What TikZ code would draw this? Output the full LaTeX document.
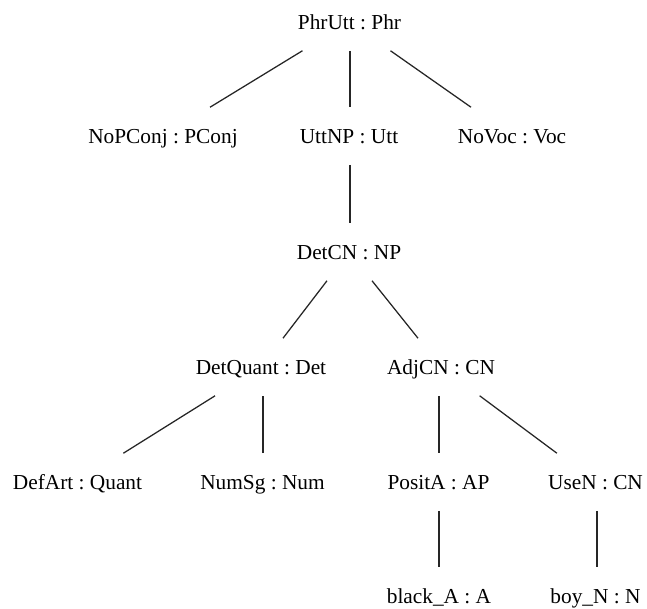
\documentclass[tikz,border=0pt]{standalone}
\usepackage{fontspec}
\setmainfont{Liberation Serif}
\begin{document}
\frenchspacing
\begin{tikzpicture}[x=0.75pt,y=-0.75pt,
  cat/.style={rectangle,inner xsep=1pt,inner ysep=0pt,
    text height=10.6pt,text depth=0pt,minimum height=42.75pt,
    font=\fontsize{16}{19}\selectfont\frenchspacing},
  branch/.style={draw=black!85,line width=0.95pt}]
\useasboundingbox (0,0) rectangle (647,609);
% level 1
\node[cat] (phr)   at (349.5,22)  {PhrUtt : Phr};
% level 2
\node[cat] (pconj) at (163,136)   {NoPConj : PConj};
\node[cat] (utt)   at (349,136)   {UttNP : Utt};
\node[cat] (voc)   at (512,136)   {NoVoc : Voc};
% level 3
\node[cat] (np)    at (349,252)   {DetCN : NP};
% level 4
\node[cat] (det)   at (261,367)   {DetQuant : Det};
\node[cat] (adjcn) at (441,367)   {AdjCN : CN};
% level 5
\node[cat] (quant) at (77.5,482)  {DefArt : Quant};
\node[cat] (num)   at (262.5,482) {NumSg : Num};
\node[cat] (ap)    at (438.5,482) {PositA : AP};
\node[cat] (usen)  at (595.5,482) {UseN : CN};
% level 6
\node[cat] (black) at (439,596)   {black\_A : A};
\node[cat] (boy)   at (595.5,596) {boy\_N : N};
% branches
\draw[branch] (phr) -- (pconj);
\draw[branch] (phr.south -| 350,0) -- (utt.north -| 350,0);
\draw[branch] (phr) -- (voc);
\draw[branch] (utt.south -| 350,0) -- (np.north -| 350,0);
\draw[branch] (np) -- (det);
\draw[branch] (np) -- (adjcn);
\draw[branch] (det) -- (quant);
\draw[branch] (num.north -| 263,0) -- (det.south -| 263,0);
\draw[branch] (adjcn.south -| 439,0) -- (ap.north -| 439,0);
\draw[branch] (adjcn) -- (usen);
\draw[branch] (ap.south -| 439,0) -- (black.north -| 439,0);
\draw[branch] (usen.south -| 597,0) -- (boy.north -| 597,0);
\end{tikzpicture}
\end{document}
